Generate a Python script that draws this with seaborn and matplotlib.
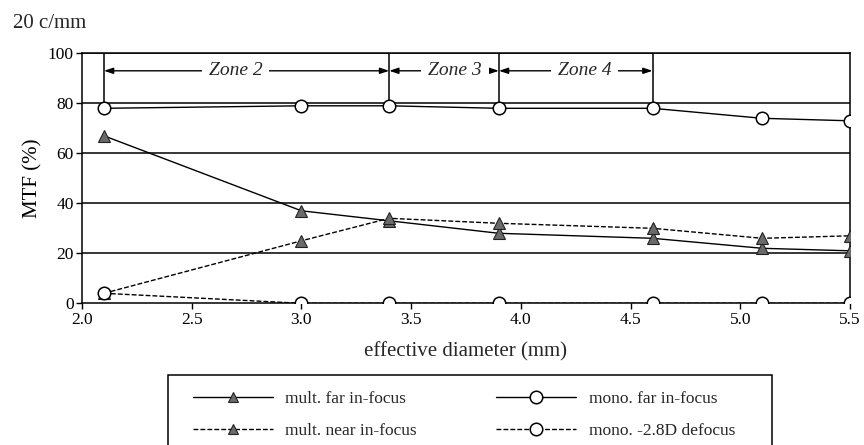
import matplotlib
matplotlib.use("Agg")
import matplotlib.pyplot as plt
import seaborn as sns
import pandas as pd
from matplotlib.lines import Line2D
from matplotlib.patches import Rectangle

# ---- data ----
diameters = [2.1, 3.0, 3.4, 3.9, 4.6, 5.1, 5.5]
mult_far = [67, 37, 33, 28, 26, 22, 21]
mult_near = [4, 25, 34, 32, 30, 26, 27]
mono_far = [78, 79, 79, 78, 78, 74, 73]
mono_defocus = [4, 0, 0, 0, 0, 0, 0]

zone_bounds = [2.1, 3.4, 3.9, 4.6]
zone_labels = ["Zone 2", "Zone 3", "Zone 4"]
zone_label_x = [2.70, 3.70, 4.29]
zone_arrow_y = 93

x_ticks = [2.0, 2.5, 3.0, 3.5, 4.0, 4.5, 5.0, 5.5]
y_ticks = [0, 20, 40, 60, 80, 100]

sns.set_theme(style="white")
plt.rcParams["font.family"] = ["Liberation Serif", "DejaVu Serif"]

W, H = 864, 445
fig = plt.figure(figsize=(W / 100, H / 100), dpi=100)
ax = fig.add_axes([82 / W, 1 - 303.3 / H, (850 - 82) / W, (303.3 - 53.3) / H])

df = pd.DataFrame({"d": diameters, "mult_far": mult_far, "mult_near": mult_near,
                   "mono_far": mono_far, "mono_def": mono_defocus})

# horizontal grid lines
for yv in y_ticks[1:]:
    ax.axhline(yv, color="black", lw=1.1, zorder=1)

dash = (0, (3.5, 1.5))
tri_kw = dict(marker="^", markersize=8, markerfacecolor="#6a6a6a",
              markeredgecolor="#222222", markeredgewidth=0.8)
circ_kw = dict(marker="o", markersize=9, markerfacecolor="white",
               markeredgecolor="black", markeredgewidth=1.1)

sns.lineplot(data=df, x="d", y="mult_far", ax=ax, color="black", lw=1.0,
             linestyle="-", zorder=3, **tri_kw)
sns.lineplot(data=df, x="d", y="mult_near", ax=ax, color="black", lw=1.0,
             linestyle=dash, zorder=3, **tri_kw)
sns.lineplot(data=df, x="d", y="mono_far", ax=ax, color="black", lw=1.0,
             linestyle="-", zorder=3, **circ_kw)
sns.lineplot(data=df, x="d", y="mono_def", ax=ax, color="black", lw=1.0,
             linestyle=dash, zorder=3, **circ_kw)

# zone boundaries
for b in zone_bounds:
    ymin = mono_far[diameters.index(b)]
    ax.plot([b, b], [ymin + 1.5, 100], color="black", lw=1.1, zorder=2)

for i, lab in enumerate(zone_labels):
    x0, x1 = zone_bounds[i], zone_bounds[i + 1]
    ax.annotate("", xy=(x0, zone_arrow_y), xytext=(x1, zone_arrow_y),
                arrowprops=dict(arrowstyle="<|-|>,head_length=0.45,head_width=0.15",
                                color="black", lw=1.0, shrinkA=0, shrinkB=0),
                zorder=2)
    ax.text(zone_label_x[i], zone_arrow_y, lab, ha="center", va="center",
            fontsize=14, style="italic", zorder=4,
            bbox=dict(facecolor="white", edgecolor="none", pad=5))

ax.set_xlim(2.0, 5.5)
ax.set_ylim(0, 100)
ax.set_xticks(x_ticks)
ax.set_xticklabels([f"{v:.1f}" for v in x_ticks])
ax.set_yticks(y_ticks)
ax.tick_params(axis="both", direction="out", length=4, width=1, labelsize=12.5,
               colors="black", left=True, bottom=True, pad=2)
for s in ax.spines.values():
    s.set_color("black")
    s.set_linewidth(1.1)
    s.set_visible(True)

ax.set_xlabel("")
ax.set_ylabel("MTF (%)", fontsize=15, color="black", labelpad=4)
fig.text(466 / W, 1 - 352 / H, "effective diameter (mm)", ha="center",
         va="center", fontsize=15)

fig.text(13 / W, 1 - 23 / H, "20 c/mm", ha="left", va="center", fontsize=15)

# legend
leg_tri = dict(tri_kw, markersize=6.5)
handles = [
    Line2D([], [], color="black", lw=1.0, linestyle="-", **leg_tri),
    Line2D([], [], color="black", lw=1.0, linestyle=dash, **leg_tri),
    Line2D([], [], color="black", lw=1.0, linestyle="-", **circ_kw),
    Line2D([], [], color="black", lw=1.0, linestyle=dash, **circ_kw),
]
labels = ["mult. far in-focus", "mult. near in-focus",
          "mono. far in-focus", "mono. -2.8D defocus"]
fig.patches.append(Rectangle((168 / W, -0.05), (772 - 168) / W, (1 - 375 / H) + 0.05,
                             transform=fig.transFigure, facecolor="none",
                             edgecolor="black", lw=1.1))
leg = fig.legend(handles, labels, ncol=2, loc="upper left",
                 bbox_to_anchor=(193 / W, 1 - 391 / H),
                 frameon=False, fontsize=12.5,
                 handlelength=4.6, handletextpad=0.7, columnspacing=4.6,
                 labelspacing=0.9, borderpad=0, borderaxespad=0)

fig.savefig("out.png", dpi=100)
